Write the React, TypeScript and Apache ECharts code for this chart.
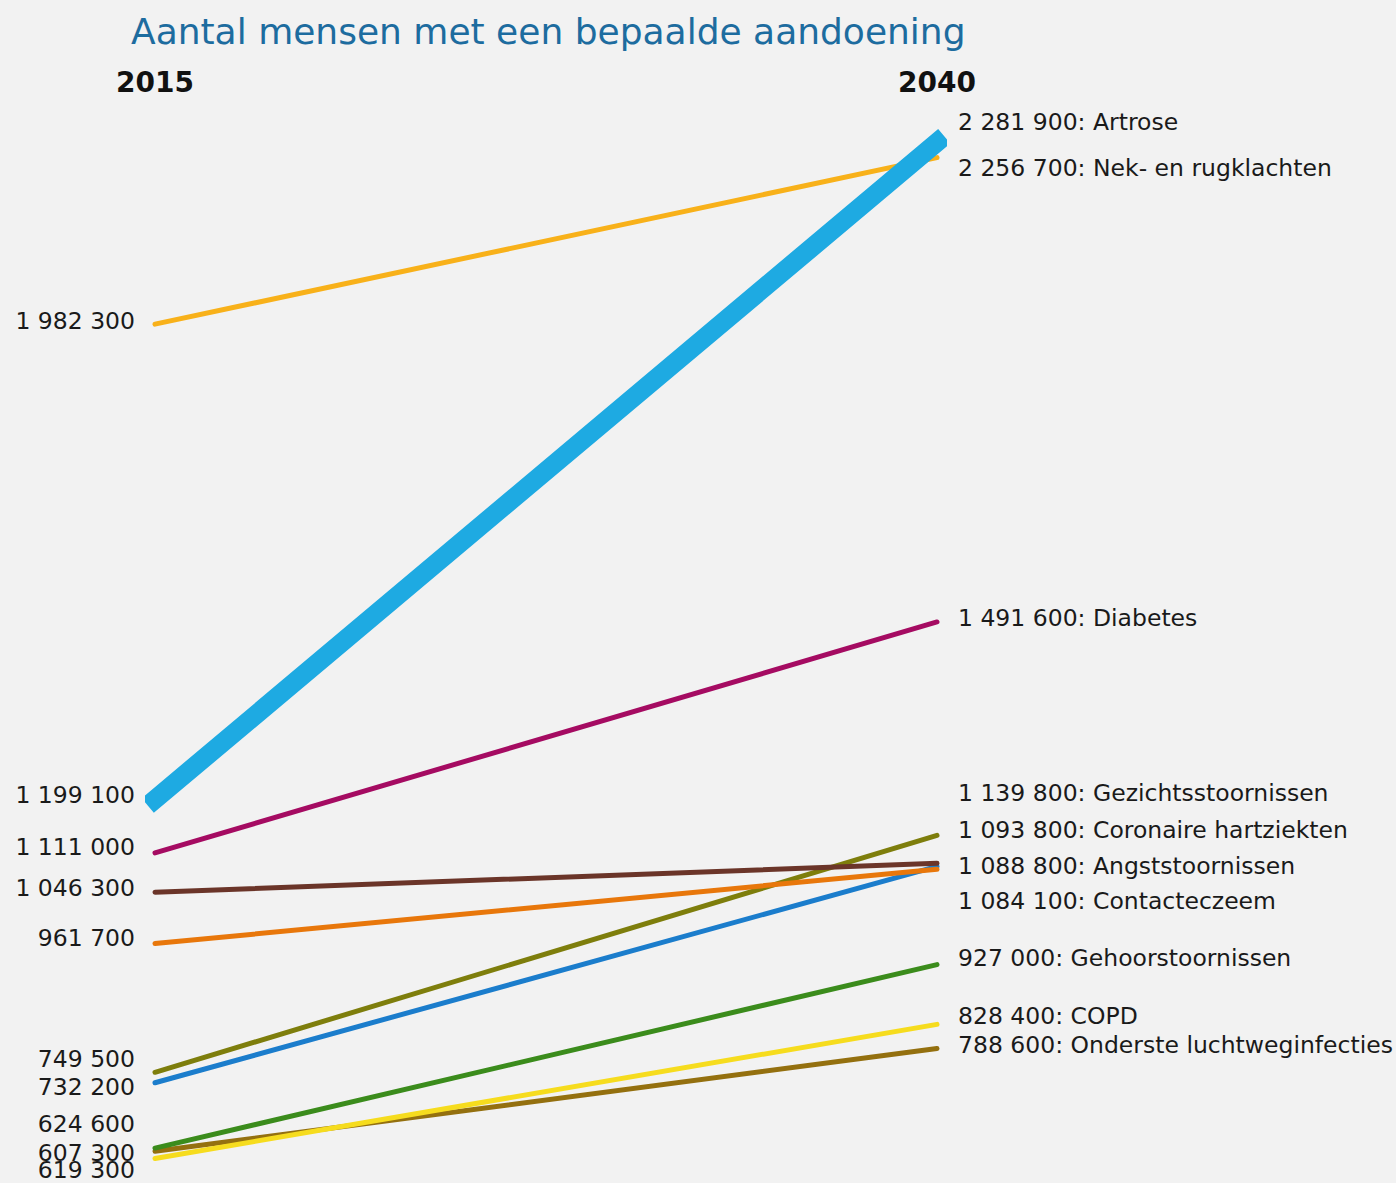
import React, { useEffect, useRef } from "react";
import * as echarts from "echarts";

const years = ["2015", "2040"];
const conditions = [
  "Onderste luchtweginfecties",
  "COPD",
  "Gehoorstoornissen",
  "Angststoornissen",
  "Gezichtsstoornissen",
  "Contacteczeem",
  "Coronaire hartziekten",
  "Diabetes",
  "Nek- en rugklachten",
  "Artrose",
];
const values2015 = [619300, 607300, 624600, 732200, 749500, 961700, 1046300, 1111000, 1982300, 1199100];
const values2040 = [788600, 828400, 927000, 1088800, 1139800, 1084100, 1093800, 1491600, 2256700, 2281900];
const colors = ["#94700f", "#f6dc1e", "#3b8c1c", "#1b7dcc", "#7e7e0c", "#e8770b", "#6b3529", "#a50b62", "#f8b11a", "#1eaae2"];
const lineWidths = [5, 5, 5, 5, 5, 5, 5, 5, 5, 19];
// label nudges (px) to keep the crowded labels apart, as in the reference
const leftLabelDy = [19, -6, -24, 4, -13, -6, -4, -6, -3, -4];
const rightLabelDy = [-4, -8, -7, 0, -42, 32, -33, -4, 10, -20];

const fmt = (v: number) => String(v).replace(/\B(?=(\d{3})+(?!\d))/g, " ");

export default function App() {
  const ref = useRef<HTMLDivElement>(null);
  useEffect(() => {
    if (!ref.current) return;
    const chart = echarts.init(ref.current, null, { renderer: "svg" });
    const font = "DejaVu Sans";
    const series = conditions.map((name, i) => ({
      type: "line",
      name,
      symbol: "circle",
      symbolSize: 0,
      showSymbol: true,
      z: 2 + i,
      itemStyle: { color: colors[i] },
      lineStyle: {
        color: colors[i],
        width: lineWidths[i],
        cap: lineWidths[i] > 10 ? "square" : "round",
      },
      data: [
        {
          value: values2015[i],
          label: {
            show: true,
            position: "left",
            distance: 20,
            offset: [0, leftLabelDy[i]],
            formatter: () => fmt(values2015[i]),
            fontFamily: font,
            fontSize: 23.5,
            color: "#1a1a1a",
          },
        },
        {
          value: values2040[i],
          label: {
            show: true,
            position: "right",
            distance: 21,
            offset: [0, rightLabelDy[i]],
            formatter: () => `${fmt(values2040[i])}: ${name}`,
            fontFamily: font,
            fontSize: 23.5,
            color: "#1a1a1a",
          },
        },
      ],
    }));
    chart.setOption({
      animation: false,
      backgroundColor: "#f2f2f2",
      title: {
        text: "Aantal mensen met een bepaalde aandoening",
        left: 126,
        top: 8,
        textStyle: { fontFamily: font, fontSize: 36, fontWeight: "normal", color: "#1d6c9f" },
      },
      grid: { left: 155, right: 459, top: 10, bottom: 20 },
      xAxis: {
        type: "category",
        data: years,
        boundaryGap: false,
        position: "top",
        axisLine: { show: false },
        axisTick: { show: false },
        splitLine: { show: false },
        axisLabel: {
          inside: true,
          margin: 58,
          fontFamily: font,
          fontSize: 28,
          fontWeight: "bold",
          color: "#111",
        },
      },
      yAxis: {
        type: "value",
        min: 600000,
        max: 2500000,
        show: false,
        splitLine: { show: false },
      },
      series,
    });
    return () => chart.dispose();
  }, []);
  return (
    <div
      ref={ref}
      style={{ position: "absolute", left: 0, top: 0, width: 1396, height: 1183, background: "#f2f2f2" }}
    />
  );
}
